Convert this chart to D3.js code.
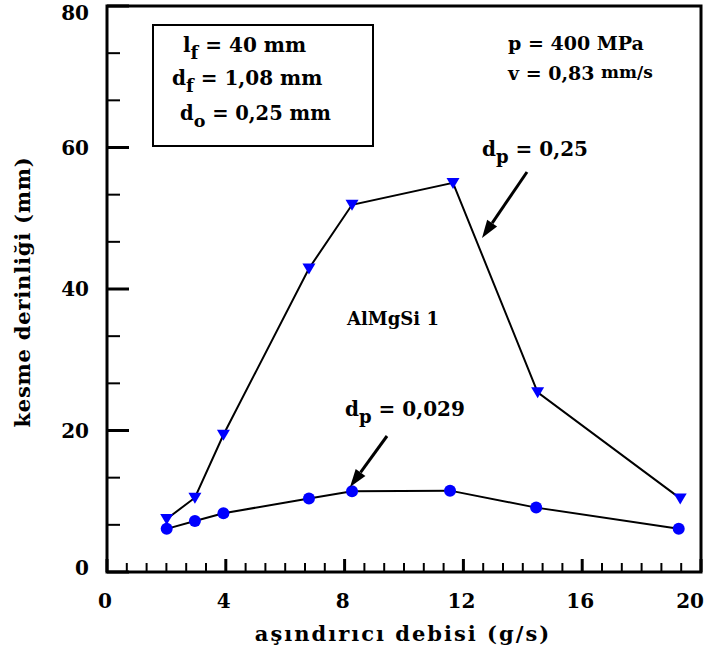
<!DOCTYPE html>
<html><head><meta charset="utf-8">
<script src="https://cdn.jsdelivr.net/npm/d3@7"></script>
<style>body{margin:0;background:#fff}svg{display:block}text{font-family:"DejaVu Serif",serif;font-weight:bold;fill:#000}</style>
</head><body>
<script>
// data
const xTri = [2.01, 2.96, 3.92, 6.8, 8.25, 11.65, 14.5, 19.3];
const yTri = [7.5, 10.5, 19.4, 42.9, 51.9, 55.0, 25.4, 10.4];
const xCirc = [2.01, 2.96, 3.92, 6.8, 8.25, 11.55, 14.45, 19.25];
const yCirc = [6.1, 7.2, 8.3, 10.4, 11.4, 11.5, 9.1, 6.1];
const xTicks = [0, 4, 8, 12, 16, 20];
const yTicks = [0, 20, 40, 60, 80];
const xTitle = "aşındırıcı debisi (g/s)";
const yTitle = "kesme derinliği (mm)";

const W = 709, H = 660;
const svg = d3.select("body").append("svg").attr("width", W).attr("height", H);
const x = d3.scaleLinear().domain([0, 20]).range([107, 701]);
const y = d3.scaleLinear().domain([0, 80]).range([572, 6]);

// frame
svg.append("rect").attr("x", x(0)).attr("y", y(80)).attr("width", x(20) - x(0)).attr("height", y(0) - y(80))
  .attr("fill", "none").attr("stroke", "#000").attr("stroke-width", 3);

const isMaj = (d, s) => Math.abs(d / s - Math.round(d / s)) < 1e-6;
// x ticks
const xMinor = d3.range(0, 20.001, 4 / 6);
svg.append("g").selectAll("line").data(xMinor).join("line")
  .attr("x1", d => x(d)).attr("x2", d => x(d)).attr("y1", y(0))
  .attr("y2", d => isMaj(d, 4) ? y(0) - 13 : y(0) - 9)
  .attr("stroke", "#000").attr("stroke-width", d => isMaj(d, 4) ? 3 : 2);
svg.append("g").selectAll("text").data(xTicks).join("text")
  .attr("x", d => d === 20 ? x(d) + 3 : x(d) - 2).attr("y", 608)
  .attr("text-anchor", d => d === 20 ? "end" : "middle")
  .attr("font-size", 20).text(d => d);

// y ticks
const yMinor = d3.range(0, 80.001, 20 / 3);
svg.append("g").selectAll("line").data(yMinor).join("line")
  .attr("y1", d => y(d)).attr("y2", d => y(d)).attr("x1", x(0))
  .attr("x2", d => isMaj(d, 20) ? x(0) + 22 : x(0) + 13)
  .attr("stroke", "#000").attr("stroke-width", d => isMaj(d, 20) ? 3 : 2);
svg.append("g").selectAll("text").data(yTicks).join("text")
  .attr("x", 89).attr("y", d => d === 80 ? y(d) + 14 : (d === 0 ? y(d) + 3 : y(d) + 7))
  .attr("text-anchor", "end").attr("font-size", 20).text(d => d);

// titles
svg.append("text").attr("x", 403).attr("y", 641).attr("text-anchor", "middle").attr("font-size", 21)
  .attr("letter-spacing", 2).text(xTitle);
svg.append("text").attr("transform", "translate(30,292) rotate(-90)").attr("text-anchor", "middle")
  .attr("font-size", 21).attr("letter-spacing", 0.8).text(yTitle);

// lines
const line = d3.line().x(d => x(d[0])).y(d => y(d[1]));
const triPts = xTri.map((v, i) => [v, yTri[i]]);
const circPts = xCirc.map((v, i) => [v, yCirc[i]]);
svg.append("path").attr("d", line(triPts)).attr("fill", "none").attr("stroke", "#000").attr("stroke-width", 2);
svg.append("path").attr("d", line(circPts)).attr("fill", "none").attr("stroke", "#000").attr("stroke-width", 2);

// markers
svg.append("g").selectAll("path").data(triPts).join("path")
  .attr("d", d => { const cx = x(d[0]), cy = y(d[1]); return `M${cx - 6.5},${cy - 5}L${cx + 6.5},${cy - 5}L${cx},${cy + 6}Z`; })
  .attr("fill", "#0000ff");
svg.append("g").selectAll("circle").data(circPts).join("circle")
  .attr("cx", d => x(d[0])).attr("cy", d => y(d[1])).attr("r", 6).attr("fill", "#0000ff");

// info box
svg.append("rect").attr("x", 153).attr("y", 25).attr("width", 220).attr("height", 121)
  .attr("fill", "none").attr("stroke", "#000").attr("stroke-width", 2);
function sub(parent, px, py, main, s, rest, fs) {
  const t = parent.append("text").attr("x", px).attr("y", py).attr("font-size", fs);
  t.append("tspan").text(main);
  t.append("tspan").attr("dy", 7).attr("font-size", fs * 0.9).text(s);
  t.append("tspan").attr("dy", -7).text(rest);
  return t;
}
sub(svg, 183, 52, "l", "f", " = 40 mm", 20);
sub(svg, 172, 85, "d", "f", " = 1,08 mm", 20);
sub(svg, 180, 120, "d", "o", " = 0,25 mm", 19.5);

svg.append("text").attr("x", 508).attr("y", 50).attr("font-size", 19).text("p = 400 MPa");
const vt = svg.append("text").attr("x", 508).attr("y", 80).attr("font-size", 19);
vt.append("tspan").text("v = 0,83 ");
vt.append("tspan").attr("font-size", 17).attr("dy", -2).text("mm/s");

svg.append("text").attr("x", 347).attr("y", 325).attr("font-size", 18).text("AlMgSi 1");

sub(svg, 482, 156, "d", "p", " = 0,25", 20);
sub(svg, 345, 416, "d", "p", " = 0,029", 20);

// arrows
function arrow(x1, y1, x2, y2) {
  const ang = Math.atan2(y2 - y1, x2 - x1), L = 18, hw = 6;
  const bx = x2 - L * Math.cos(ang), by = y2 - L * Math.sin(ang);
  svg.append("line").attr("x1", x1).attr("y1", y1).attr("x2", bx).attr("y2", by).attr("stroke", "#000").attr("stroke-width", 3);
  const px = -Math.sin(ang) * hw, py = Math.cos(ang) * hw;
  svg.append("path").attr("d", `M${x2},${y2}L${bx + px},${by + py}L${bx - px},${by - py}Z`).attr("fill", "#000");
}
arrow(527, 172, 482, 238);
arrow(387, 436, 350, 487);
</script>
</body></html>
